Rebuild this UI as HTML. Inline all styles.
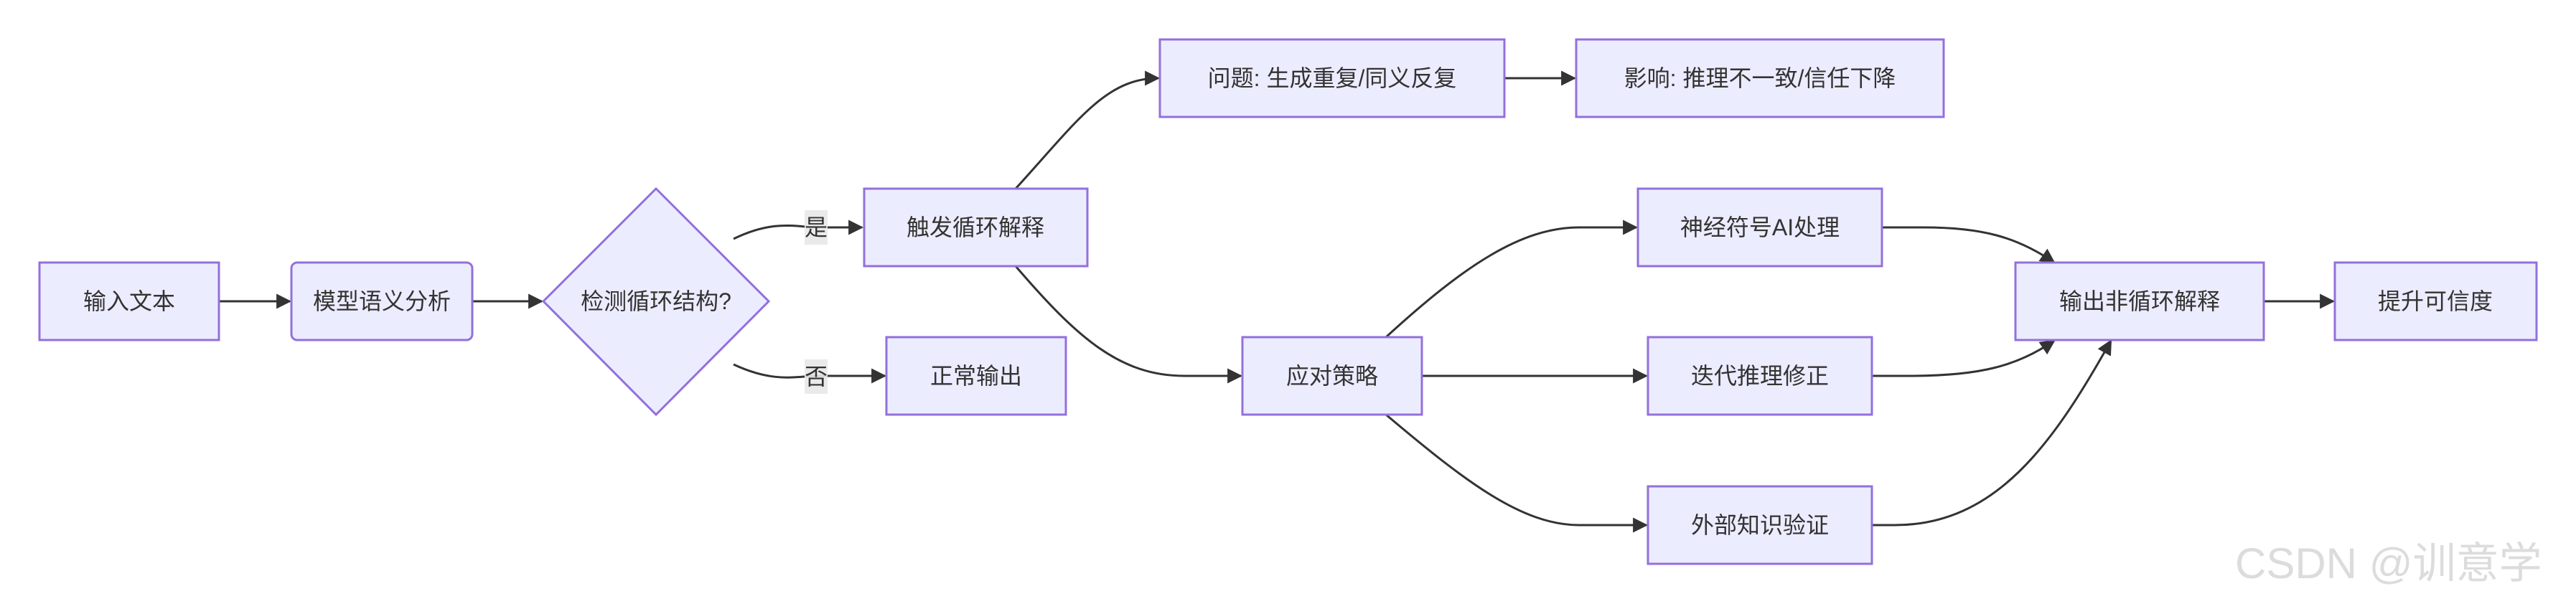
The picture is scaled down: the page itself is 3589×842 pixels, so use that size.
<!DOCTYPE html>
<html><head><meta charset="utf-8"><style>
html,body{margin:0;padding:0;background:#fff;}
svg{display:block;}
text{font-family:"Liberation Sans","Noto Sans CJK SC",sans-serif;font-size:32px;fill:#333;}
.n{fill:#ECECFF;stroke:#9370DB;stroke-width:3;}
.e{fill:none;stroke:#333;stroke-width:3;}
</style></head><body>
<svg width="3589" height="842" viewBox="0 0 3589 842" xmlns="http://www.w3.org/2000/svg">
<defs><marker id="a" viewBox="0 0 10 10" refX="9" refY="5" markerWidth="7" markerHeight="7" markerUnits="strokeWidth" orient="auto"><path d="M0,0L10,5L0,10z" fill="#333"/></marker></defs>
<g class="e" marker-end="url(#a)">
<path d="M305,420 L404,420"/>
<path d="M658,420 L755,420"/>
<path d="M1022,333 C1080,305 1110,317 1140,317 L1201,317"/>
<path d="M1022,508 C1080,535 1110,524 1140,524 L1233,524"/>
<path d="M1415,263 C1500,170 1540,109 1614,109"/>
<path d="M2096,109 L2194,109"/>
<path d="M1415,371 C1500,470 1560,524 1650,524 L1729,524"/>
<path d="M1931,470 C2040,370 2120,317 2200,317 L2280,317"/>
<path d="M1981,524 L2294,524"/>
<path d="M1931,578 C2040,670 2120,732 2200,732 L2294,732"/>
<path d="M2622,317 L2680,317 C2760,317 2810,330 2862,366"/>
<path d="M2608,524 L2660,524 C2760,524 2810,510 2862,475"/>
<path d="M2608,732 L2640,732 C2780,732 2860,620 2941,475"/>
<path d="M3154,420 L3251,420"/>
</g>
<rect class="n" x="55" y="366" width="250" height="108"/>
<rect class="n" x="406" y="366" width="252" height="108" rx="8"/>
<polygon class="n" points="914,263 1071,420 914,578 757,420"/>
<rect class="n" x="1204" y="263" width="311" height="108"/>
<rect class="n" x="1235" y="470" width="250" height="108"/>
<rect class="n" x="1616" y="55" width="480" height="108"/>
<rect class="n" x="2196" y="55" width="512" height="108"/>
<rect class="n" x="1731" y="470" width="250" height="108"/>
<rect class="n" x="2282" y="263" width="340" height="108"/>
<rect class="n" x="2296" y="470" width="312" height="108"/>
<rect class="n" x="2296" y="678" width="312" height="108"/>
<rect class="n" x="2808" y="366" width="346" height="108"/>
<rect class="n" x="3253" y="366" width="281" height="108"/>
<rect x="1121" y="293" width="32" height="48" fill="#e8e8e8" opacity="0.9"/>
<rect x="1121" y="501" width="32" height="48" fill="#e8e8e8" opacity="0.9"/>
<g text-anchor="middle" dominant-baseline="central">
<text x="1137" y="317">是</text>
<text x="1137" y="525">否</text>
<text x="180" y="420">输入文本</text>
<text x="532" y="420">模型语义分析</text>
<text x="914" y="420">检测循环结构?</text>
<text x="1359" y="317">触发循环解释</text>
<text x="1360" y="524">正常输出</text>
<text x="1856" y="109">问题: 生成重复/同义反复</text>
<text x="2452" y="109">影响: 推理不一致/信任下降</text>
<text x="1856" y="524">应对策略</text>
<text x="2452" y="317">神经符号AI处理</text>
<text x="2452" y="524">迭代推理修正</text>
<text x="2452" y="732">外部知识验证</text>
<text x="2981" y="420">输出非循环解释</text>
<text x="3393" y="420">提升可信度</text>
</g>
<text x="3114" y="806" style="font-size:60px;fill:#dcdcdc;">CSDN @训意学</text>
</svg>
</body></html>
